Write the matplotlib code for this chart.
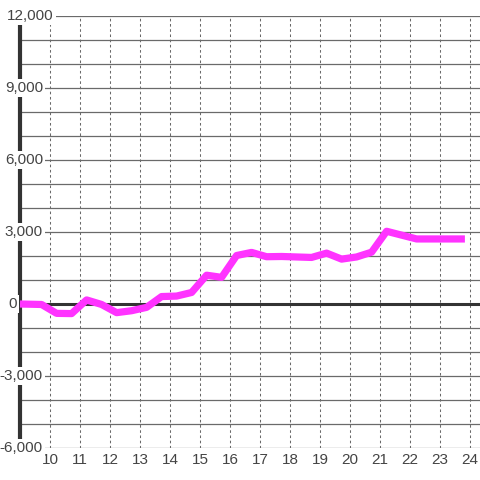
import matplotlib
matplotlib.use("Agg")
import matplotlib.pyplot as plt
import matplotlib.transforms as mtrans

# data
x_vals = [9.0, 9.72, 10.22, 10.72, 11.22, 11.72, 12.22, 12.72, 13.22, 13.72,
          14.22, 14.72, 15.22, 15.72, 16.22, 16.72, 17.22, 17.72, 18.22, 18.72,
          19.22, 19.72, 20.22, 20.72, 21.22, 21.72, 22.22, 22.72, 23.22, 23.83]
y_vals = [0, -20, -390, -400, 170, -20, -360, -280, -140, 310,
          330, 480, 1200, 1110, 2020, 2150, 1970, 1980, 1960, 1940,
          2120, 1870, 1960, 2160, 3030, 2870, 2710, 2710, 2710, 2710]
x_ticks = list(range(10, 25))
y_label_vals = [12000, 9000, 6000, 3000, 0, -3000, -6000]
y_label_text = ["12,000", "9,000", "6,000", "3,000", "0", "-3,000", "-6,000"]

plt.rcParams['font.family'] = ['Liberation Sans', 'DejaVu Sans']
W = 480
fig = plt.figure(figsize=(4.8, 4.8), dpi=100)
ax = fig.add_axes([20 / W, 1 - 448 / W, 460 / W, 432 / W])
ax.set_xlim(9.0, 9.0 + 460 / 30)
ax.set_ylim(-6000, 12000)
for s in ax.spines.values():
    s.set_visible(False)

ax.set_yticks(range(-6000, 12001, 1000))
ax.set_yticklabels([])
ax.set_xticks(x_ticks)
ax.set_xticklabels([str(t) for t in x_ticks])
ax.tick_params(axis='both', length=0)
ax.tick_params(axis='x', pad=3.5, labelsize=11, labelcolor='#444444')
ax.grid(axis='y', color='#6a6a6a', linewidth=0.9, linestyle='-')
ax.grid(axis='x', color='#6a6a6a', linewidth=0.75, linestyle=(0, (2.5, 2.5)))
ax.set_axisbelow(True)

ax.axhline(0, color='#333333', linewidth=2.2, zorder=2)
ax.axvline(9.0, color='#333333', linewidth=3.0, zorder=2, clip_on=False)

ax.plot(x_vals, y_vals, color='#ff33ff', linewidth=5.2, solid_joinstyle='round',
        solid_capstyle='butt', zorder=3, clip_on=False)

tr = mtrans.blended_transform_factory(fig.transFigure, ax.transData)
for v, t in zip(y_label_vals, y_label_text):
    if t == "12,000":
        xp, ha = 7, 'left'
    elif t == "0":
        xp, ha = 8, 'left'
    else:
        xp, ha = 43, 'right'
    ax.text(xp / W, v, t, transform=tr, ha=ha, va='center', fontsize=11,
            color='#444444', zorder=5, clip_on=False,
            bbox=dict(facecolor='white', edgecolor='none', pad=1.5))

fig.savefig("out.png", dpi=100)
